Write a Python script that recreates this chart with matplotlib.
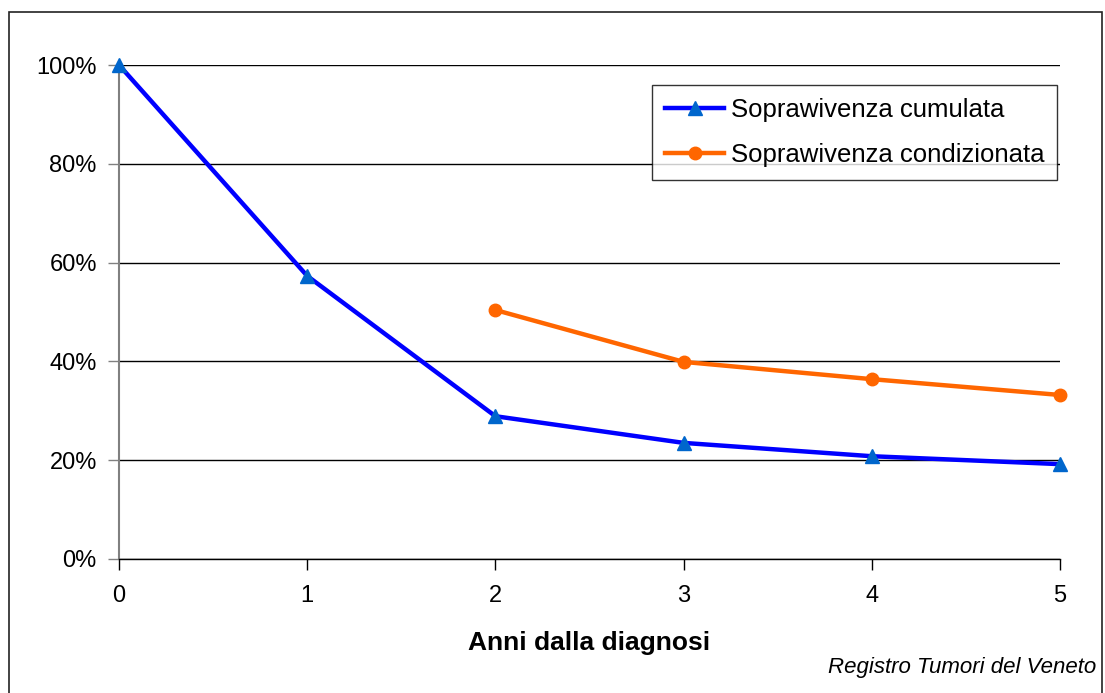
import matplotlib
matplotlib.use("Agg")
import matplotlib.pyplot as plt
from matplotlib.patches import Rectangle
from matplotlib.ticker import PercentFormatter

plt.rcParams['font.family'] = ['Liberation Sans', 'DejaVu Sans']

anni = [0, 1, 2, 3, 4, 5]
cumulata = [100, 57.3, 28.9, 23.5, 20.8, 19.2]
anni_cond = [2, 3, 4, 5]
condizionata = [50.4, 39.9, 36.4, 33.2]

fig = plt.figure(figsize=(11.05, 6.93), dpi=100)
ax = fig.add_axes([0.1077, 0.1934, 0.8516, 0.7128])

# outer frame (bottom edge outside the picture)
fig.patches.append(Rectangle((9 / 1105, -0.05), 1093 / 1105, 1 - 12 / 693 + 0.05,
                             transform=fig.transFigure, fill=False,
                             edgecolor='#222222', linewidth=1.2))

ax.plot(anni, cumulata, color='#0000FF', linewidth=3.2, marker='^', markersize=10,
        markerfacecolor='#0066CC', markeredgecolor='#0066CC',
        label='Soprawivenza cumulata', clip_on=False, zorder=3)
ax.plot(anni_cond, condizionata, color='#FF6600', linewidth=3.2, marker='o', markersize=9,
        markerfacecolor='#FF6600', markeredgecolor='#FF6600',
        label='Soprawivenza condizionata', clip_on=False, zorder=3)

ax.set_xlim(0, 5)
ax.set_ylim(0, 100)
ax.set_yticks([0, 20, 40, 60, 80, 100])
ax.set_xticks(anni)
ax.yaxis.set_major_formatter(PercentFormatter(decimals=0))
ax.grid(axis='y', color='black', linewidth=1)
ax.set_axisbelow(True)

for s in ['top', 'right']:
    ax.spines[s].set_visible(False)
ax.spines['left'].set_color('#808080')
ax.spines['left'].set_linewidth(1.5)
ax.spines['bottom'].set_color('black')
ax.spines['bottom'].set_linewidth(1)
ax.tick_params(axis='y', length=8, width=1, color='#808080', labelsize=17, pad=8)
ax.tick_params(axis='x', length=8, width=1, color='black', labelsize=17, pad=11)

ax.set_xlabel('Anni dalla diagnosi', fontsize=19, fontweight='bold', labelpad=17)

leg = ax.legend(loc='upper right', bbox_to_anchor=(0.9968, 0.9595), fontsize=18.5,
                frameon=True, fancybox=False, edgecolor='black', handlelength=2.3,
                borderpad=0.5, labelspacing=0.82, handletextpad=0.25, borderaxespad=0)
leg.get_frame().set_linewidth(1)

fig.text(0.992, 0.022, 'Registro Tumori del Veneto', ha='right', va='bottom',
         fontsize=16, style='italic')

fig.savefig('out.png', dpi=100)
